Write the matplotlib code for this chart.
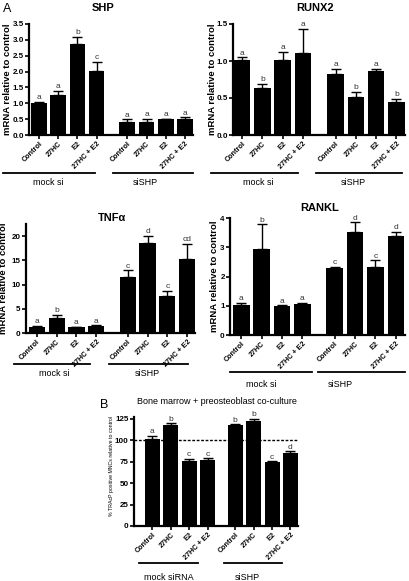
import matplotlib
matplotlib.use("Agg")
import matplotlib.pyplot as plt
import numpy as np

plt.rcParams['font.family'] = ['Liberation Sans', 'DejaVu Sans']

categories = ["Control", "27HC", "E2", "27HC + E2", "Control", "27HC", "E2", "27HC + E2"]

shp_vals = [1.01, 1.26, 2.86, 2.02, 0.42, 0.42, 0.49, 0.49]
shp_err = [0.03, 0.14, 0.24, 0.29, 0.08, 0.10, 0.03, 0.07]
shp_letters = ["a", "a", "b", "c", "a", "a", "a", "a"]

runx2_vals = [1.01, 0.63, 1.01, 1.11, 0.83, 0.51, 0.86, 0.44]
runx2_err = [0.04, 0.06, 0.11, 0.32, 0.06, 0.07, 0.03, 0.05]
runx2_letters = ["a", "b", "a", "a", "a", "b", "a", "b"]

tnf_vals = [1.16, 3.08, 1.16, 1.5, 11.5, 18.5, 7.67, 15.2]
tnf_err = [0.3, 0.7, 0.1, 0.15, 1.5, 1.6, 1.1, 3.2]
tnf_letters = ["a", "b", "a", "a", "c", "d", "c", "cd"]

rankl_vals = [1.03, 2.94, 0.99, 1.05, 2.29, 3.52, 2.31, 3.39]
rankl_err = [0.08, 0.85, 0.03, 0.06, 0.05, 0.33, 0.24, 0.13]
rankl_letters = ["a", "b", "a", "a", "c", "d", "c", "d"]

b_vals = [101, 117.5, 76, 77.3, 117.5, 122, 74, 85]
b_err = [4, 2, 2, 1.5, 1, 2.5, 1.2, 2]
b_letters = ["a", "b", "c", "c", "b", "b", "c", "d"]

W, H = 409, 581
fig = plt.figure(figsize=(W / 100, H / 100), dpi=100)


def rect(x0, x1, ytop, ybot):
    return [x0 / W, 1 - ybot / H, (x1 - x0) / W, (ybot - ytop) / H]


def panel(r, vals, errs, letters, ylim, yticks, yticklabels, gap, xlim,
          group_lines, group_labels, line_y, label_y, ylabel, ylabel_size,
          ylabel_bold, letter_pad, label_x, label_yc=0.5, ticklabel_size=5.2,
          dashed=None):
    ax = fig.add_axes(r)
    pos = np.array([0, 1, 2, 3, 3 + gap, 4 + gap, 5 + gap, 6 + gap])
    ax.bar(pos, vals, width=0.82, color="black", zorder=2)
    ax.errorbar(pos, vals, yerr=[np.zeros(len(vals)), errs], fmt="none",
                ecolor="black", elinewidth=1.0, capsize=3.4, capthick=1.0, zorder=3)
    for p, v, e, l in zip(pos, vals, errs, letters):
        ax.text(p, v + e + letter_pad, l, ha="center", va="bottom",
                fontsize=6, color="#333333")
    if dashed is not None:
        ax.axhline(dashed, color="black", lw=1.0, ls=(0, (2, 1.2)), zorder=1)
    ax.set_ylim(*ylim)
    ax.set_xlim(*xlim)
    ax.set_yticks(yticks)
    ax.set_yticklabels(yticklabels, fontsize=5.8, fontweight="bold")
    ax.set_xticks(pos)
    ax.set_xticklabels(categories, rotation=45, ha="right",
                       rotation_mode="anchor", fontsize=ticklabel_size,
                       fontweight="bold")
    for s in ["top", "right"]:
        ax.spines[s].set_visible(False)
    for s in ["left", "bottom"]:
        ax.spines[s].set_linewidth(1.6)
    ax.tick_params(axis="both", width=1.2, length=2.6, pad=1.2)
    ax.set_ylabel(ylabel, fontsize=ylabel_size,
                  fontweight="bold" if ylabel_bold else "normal")
    ax.yaxis.set_label_coords(label_x, label_yc)
    for (a, b), (txt, cx) in zip(group_lines, group_labels):
        ax.plot([a, b], [line_y, line_y], transform=ax.transAxes,
                color="black", lw=1.3, clip_on=False)
        ax.text(cx, label_y, txt, transform=ax.transAxes, ha="center",
                va="center", fontsize=6.5)
    return ax


ylab = "mRNA relative to control"

panel(rect(29, 193, 24, 135), shp_vals, shp_err, shp_letters, (0, 3.5),
      [0, 0.5, 1, 1.5, 2, 2.5, 3, 3.5],
      ["0.0", "0.5", "1.0", "1.5", "2.0", "2.5", "3.0", "3.5"],
      1.6, (-0.52, 8.02), [(-0.16, 0.40), (0.51, 1.0)],
      [("mock si", 0.12), ("siSHP", 0.71)], -0.34, -0.43, ylab, 6.8, True,
      0.02, -0.105)

panel(rect(233, 405, 24, 135), runx2_vals, runx2_err, runx2_letters, (0, 1.5),
      [0, 0.5, 1.0, 1.5], ["0.0", "0.5", "1.0", "1.5"],
      1.6, (-0.45, 8.02), [(-0.13, 0.38), (0.48, 0.98)],
      [("mock si", 0.15), ("siSHP", 0.70)], -0.34, -0.43, ylab, 6.8, True,
      0.01, -0.095)

panel(rect(26, 195, 224, 333), tnf_vals, tnf_err, tnf_letters, (0, 22.5),
      [0, 5, 10, 15, 20], ["0", "5", "10", "15", "20"],
      1.6, (-0.55, 8.0), [(-0.07, 0.38), (0.49, 0.96)],
      [("mock si", 0.17), ("siSHP", 0.72)], -0.28, -0.37, ylab, 6.8, True,
      0.1, -0.105)

panel(rect(230, 405, 218, 335), rankl_vals, rankl_err, rankl_letters, (0, 4),
      [0, 1, 2, 3, 4], ["0", "1", "2", "3", "4"],
      1.6, (-0.55, 8.05), [(0.0, 0.47), (0.50, 1.0)],
      [("mock si", 0.18), ("siSHP", 0.63)], -0.32, -0.42, ylab, 6.8, True,
      0.02, -0.065)

panel(rect(134, 298, 417, 526), b_vals, b_err, b_letters, (0, 127),
      [0, 25, 50, 75, 100, 125], ["0", "25", "50", "75", "100", "125"],
      1.5, (-1.0, 7.91), [(0.03, 0.39), (0.55, 0.90)],
      [("mock siRNA", 0.21), ("siSHP", 0.69)], -0.34, -0.47,
      "% TRAcP positive MNCs relative to control", 3.8, False, 0.8, -0.125,
      label_yc=0.55, dashed=100)

fig.text(103 / W, 1 - 8 / H, "SHP", ha="center", va="center", fontsize=8, fontweight="bold")
fig.text(315 / W, 1 - 8 / H, "RUNX2", ha="center", va="center", fontsize=8, fontweight="bold")
fig.text(112 / W, 1 - 218 / H, "TNF\u03b1", ha="center", va="center", fontsize=8, fontweight="bold")
fig.text(320 / W, 1 - 208 / H, "RANKL", ha="center", va="center", fontsize=8, fontweight="bold")
fig.text(217 / W, 1 - 402 / H, "Bone marrow + preosteoblast co-culture",
         ha="center", va="center", fontsize=6.5)
fig.text(3 / W, 1 - 9 / H, "A", ha="left", va="center", fontsize=9)
fig.text(100 / W, 1 - 405 / H, "B", ha="left", va="center", fontsize=9)

fig.savefig("out.png", dpi=100)
